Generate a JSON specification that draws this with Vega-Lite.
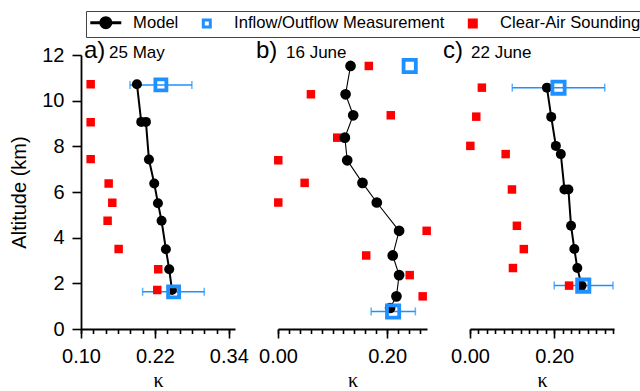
{
  "$schema": "https://vega.github.io/schema/vega-lite/v6.json",
  "padding": {"left": 9, "top": 10, "right": 0, "bottom": 0},
  "config": {
    "view": {"stroke": null},
    "font": "Liberation Sans",
    "axis": {
      "domainColor": "black", "domainWidth": 1.8, "tickColor": "black", "tickWidth": 1.6,
      "labelFont": "Liberation Sans", "labelFontSize": 20, "labelColor": "black", "labelPadding": 8,
      "titleFont": "Liberation Sans", "titleFontSize": 20, "titleColor": "black", "titleFontWeight": "normal",
      "grid": false
    },
    "axisX": {"titleFont": "Liberation Serif", "titleFontSize": 20, "titlePadding": 4},
    "legend": {
      "labelFont": "Liberation Sans", "labelFontSize": 16.6, "labelColor": "black", "labelLimit": 400
    }
  },
  "datasets": {
    "pts": [
      {"p": "a", "s": "Model", "n": 1, "k": 0.1908, "z": 10.72},
      {"p": "a", "s": "Model", "n": 2, "k": 0.1978, "z": 9.07},
      {"p": "a", "s": "Model", "n": 3, "k": 0.2054, "z": 9.07},
      {"p": "a", "s": "Model", "n": 4, "k": 0.2103, "z": 7.42},
      {"p": "a", "s": "Model", "n": 5, "k": 0.2189, "z": 6.37},
      {"p": "a", "s": "Model", "n": 6, "k": 0.2249, "z": 5.51},
      {"p": "a", "s": "Model", "n": 7, "k": 0.2308, "z": 4.74},
      {"p": "a", "s": "Model", "n": 8, "k": 0.2378, "z": 3.49},
      {"p": "a", "s": "Model", "n": 9, "k": 0.2432, "z": 2.62},
      {"p": "a", "s": "Model", "n": 10, "k": 0.2476, "z": 1.71},
      {"p": "a", "s": "Inflow/Outflow Measurement", "k": 0.2297, "z": 10.69, "lo": 0.1795, "hi": 0.280},
      {"p": "a", "s": "Inflow/Outflow Measurement", "k": 0.2503, "z": 1.63, "lo": 0.200, "hi": 0.300},
      {"p": "a", "s": "Clear-Air Sounding", "k": 0.1157, "z": 10.72},
      {"p": "a", "s": "Clear-Air Sounding", "k": 0.1157, "z": 9.05},
      {"p": "a", "s": "Clear-Air Sounding", "k": 0.1157, "z": 7.44},
      {"p": "a", "s": "Clear-Air Sounding", "k": 0.1449, "z": 6.37},
      {"p": "a", "s": "Clear-Air Sounding", "k": 0.1508, "z": 5.53},
      {"p": "a", "s": "Clear-Air Sounding", "k": 0.1432, "z": 4.74},
      {"p": "a", "s": "Clear-Air Sounding", "k": 0.1611, "z": 3.50},
      {"p": "a", "s": "Clear-Air Sounding", "k": 0.2254, "z": 2.62},
      {"p": "a", "s": "Clear-Air Sounding", "k": 0.2238, "z": 1.71},

      {"p": "b", "s": "Model", "n": 1, "k": 0.1329, "z": 11.52},
      {"p": "b", "s": "Model", "n": 2, "k": 0.1238, "z": 10.28},
      {"p": "b", "s": "Model", "n": 3, "k": 0.1378, "z": 9.36},
      {"p": "b", "s": "Model", "n": 4, "k": 0.1225, "z": 8.38},
      {"p": "b", "s": "Model", "n": 5, "k": 0.1268, "z": 7.39},
      {"p": "b", "s": "Model", "n": 6, "k": 0.1548, "z": 6.40},
      {"p": "b", "s": "Model", "n": 7, "k": 0.1810, "z": 5.54},
      {"p": "b", "s": "Model", "n": 8, "k": 0.2219, "z": 4.30},
      {"p": "b", "s": "Model", "n": 9, "k": 0.2102, "z": 3.22},
      {"p": "b", "s": "Model", "n": 10, "k": 0.2219, "z": 2.36},
      {"p": "b", "s": "Model", "n": 11, "k": 0.2170, "z": 1.43},
      {"p": "b", "s": "Model", "n": 12, "k": 0.2054, "z": 0.92},
      {"p": "b", "s": "Inflow/Outflow Measurement", "k": 0.2413, "z": 11.52},
      {"p": "b", "s": "Inflow/Outflow Measurement", "k": 0.2109, "z": 0.77, "lo": 0.1707, "hi": 0.2517},
      {"p": "b", "s": "Clear-Air Sounding", "k": 0.1664, "z": 11.52},
      {"p": "b", "s": "Clear-Air Sounding", "k": 0.0603, "z": 10.28},
      {"p": "b", "s": "Clear-Air Sounding", "k": 0.2066, "z": 9.36},
      {"p": "b", "s": "Clear-Air Sounding", "k": 0.1085, "z": 8.38},
      {"p": "b", "s": "Clear-Air Sounding", "k": 0.0005, "z": 7.39},
      {"p": "b", "s": "Clear-Air Sounding", "k": 0.0488, "z": 6.40},
      {"p": "b", "s": "Clear-Air Sounding", "k": 0.0005, "z": 5.54},
      {"p": "b", "s": "Clear-Air Sounding", "k": 0.2724, "z": 4.30},
      {"p": "b", "s": "Clear-Air Sounding", "k": 0.1616, "z": 3.22},
      {"p": "b", "s": "Clear-Air Sounding", "k": 0.2413, "z": 2.36},
      {"p": "b", "s": "Clear-Air Sounding", "k": 0.2651, "z": 1.43},

      {"p": "c", "s": "Model", "n": 1, "k": 0.1827, "z": 10.57},
      {"p": "c", "s": "Model", "n": 2, "k": 0.1929, "z": 9.29},
      {"p": "c", "s": "Model", "n": 3, "k": 0.2039, "z": 8.02},
      {"p": "c", "s": "Model", "n": 4, "k": 0.2157, "z": 7.66},
      {"p": "c", "s": "Model", "n": 5, "k": 0.2243, "z": 6.11},
      {"p": "c", "s": "Model", "n": 6, "k": 0.2337, "z": 6.11},
      {"p": "c", "s": "Model", "n": 7, "k": 0.2400, "z": 4.52},
      {"p": "c", "s": "Model", "n": 8, "k": 0.2478, "z": 3.50},
      {"p": "c", "s": "Model", "n": 9, "k": 0.2549, "z": 2.67},
      {"p": "c", "s": "Model", "n": 10, "k": 0.2651, "z": 1.90},
      {"p": "c", "s": "Inflow/Outflow Measurement", "k": 0.2102, "z": 10.57, "lo": 0.1004, "hi": 0.320},
      {"p": "c", "s": "Inflow/Outflow Measurement", "k": 0.2690, "z": 1.90, "lo": 0.200, "hi": 0.3396},
      {"p": "c", "s": "Clear-Air Sounding", "k": 0.0282, "z": 10.57},
      {"p": "c", "s": "Clear-Air Sounding", "k": 0.0149, "z": 9.30},
      {"p": "c", "s": "Clear-Air Sounding", "k": 0.0008, "z": 8.02},
      {"p": "c", "s": "Clear-Air Sounding", "k": 0.0847, "z": 7.66},
      {"p": "c", "s": "Clear-Air Sounding", "k": 0.0996, "z": 6.11},
      {"p": "c", "s": "Clear-Air Sounding", "k": 0.1114, "z": 4.52},
      {"p": "c", "s": "Clear-Air Sounding", "k": 0.1278, "z": 3.50},
      {"p": "c", "s": "Clear-Air Sounding", "k": 0.1020, "z": 2.67},
      {"p": "c", "s": "Clear-Air Sounding", "k": 0.2353, "z": 1.90}
    ]
  },
  "spacing": 43,
  "bounds": "flush",
  "resolve": {"scale": {"x": "independent", "y": "independent"}},
  "hconcat": [
    {
      "width": 154, "height": 274,
      "data": {"name": "pts"},
      "transform": [{"filter": "datum.p === 'a'"}],
      "resolve": {"axis": {"x": "independent"}},
      "layer": [
        {
          "transform": [{"filter": "isValid(datum.lo)"}],
          "mark": {"type": "rule", "color": "#1E90FF", "strokeWidth": 1.5},
          "encoding": {
            "x": {"field": "lo", "type": "quantitative", "scale": {"domain": [0.1, 0.35], "nice": false, "zero": false},
              "axis": {"title": "κ", "orient": "bottom", "values": [0.10, 0.22, 0.34], "format": ".2f", "tickSize": 9,
                "labelOverlap": false, "labelFlush": false}},
            "x2": {"field": "hi"},
            "y": {"field": "z", "type": "quantitative", "scale": {"domain": [0, 12], "nice": false},
              "axis": {"title": "Altitude (km)", "values": [0, 1, 2, 3, 4, 5, 6, 7, 8, 9, 10, 11, 12], "titlePadding": 12,
                "labelOverlap": false, "labelFlush": false,
                "labelExpr": "datum.value % 2 === 0 ? datum.label : ''",
                "tickSize": {"condition": {"test": "datum.value % 2 === 0", "value": 9}, "value": 4.5}}}
          }
        },
        {
          "transform": [{"filter": "isValid(datum.lo)"}],
          "mark": {"type": "tick", "orient": "vertical", "color": "#1E90FF", "size": 8, "thickness": 1.5},
          "encoding": {
            "x": {"field": "lo", "type": "quantitative",
              "axis": {"orient": "bottom", "title": null, "labels": false, "domain": false, "tickSize": 4.5,
                "values": [0.10, 0.12, 0.14, 0.16, 0.18, 0.20, 0.22, 0.24, 0.26, 0.28, 0.30, 0.32, 0.34]}},
            "y": {"field": "z", "type": "quantitative"}}
        },
        {
          "transform": [{"filter": "isValid(datum.lo)"}],
          "mark": {"type": "tick", "orient": "vertical", "color": "#1E90FF", "size": 8, "thickness": 1.5},
          "encoding": {"x": {"field": "hi", "type": "quantitative", "axis": null}, "y": {"field": "z", "type": "quantitative"}}
        },
        {
          "transform": [{"filter": "datum.s === 'Clear-Air Sounding'"}],
          "mark": {"type": "point", "filled": true, "opacity": 1, "size": 30, "strokeWidth": 3},
          "encoding": {
            "x": {"field": "k", "type": "quantitative", "axis": null},
            "y": {"field": "z", "type": "quantitative"},
            "fill": {"field": "s", "type": "nominal",
              "scale": {"domain": ["Model", "Inflow/Outflow Measurement", "Clear-Air Sounding"], "range": ["#000000", "#ffffff", "#FF0000"]},
              "legend": {
                "orient": "none", "legendX": 5, "legendY": -44, "direction": "horizontal",
                "title": "\u00a0", "titleOrient": "left", "titlePadding": 8.5, "titleFontSize": 17,
                "strokeColor": "#444444", "padding": 3,
                "symbolSize": 49, "symbolStrokeWidth": 3, "symbolOpacity": 1, "labelOffset": 19, "columnPadding": 18
              }},
            "stroke": {"field": "s", "type": "nominal",
              "scale": {"domain": ["Model", "Inflow/Outflow Measurement", "Clear-Air Sounding"], "range": ["#000000", "#1E90FF", "#FF0000"]},
              "legend": {
                "orient": "none", "legendX": 5, "legendY": -44, "direction": "horizontal",
                "title": "\u00a0", "titleOrient": "left", "titlePadding": 8.5, "titleFontSize": 17,
                "strokeColor": "#444444", "padding": 3,
                "symbolSize": 49, "symbolStrokeWidth": 3, "symbolOpacity": 1, "labelOffset": 19, "columnPadding": 18
              }},
            "shape": {"field": "s", "type": "nominal",
              "scale": {"domain": ["Model", "Inflow/Outflow Measurement", "Clear-Air Sounding"], "range": ["M-4.43,0H4.43M-1.43,0A1.43,1.43 0 1,1 1.43,0A1.43,1.43 0 1,1 -1.43,0Z", "square", "square"]},
              "legend": {
                "orient": "none", "legendX": 5, "legendY": -44, "direction": "horizontal",
                "title": "\u00a0", "titleOrient": "left", "titlePadding": 8.5, "titleFontSize": 17,
                "strokeColor": "#444444", "padding": 3,
                "symbolSize": 49, "symbolStrokeWidth": 3, "symbolOpacity": 1, "labelOffset": 19, "columnPadding": 18
              }}
          }
        },
        {
          "transform": [{"filter": "datum.s === 'Model'"}],
          "mark": {"type": "line", "color": "black", "strokeWidth": 2},
          "encoding": {"x": {"field": "k", "type": "quantitative", "axis": null}, "y": {"field": "z", "type": "quantitative"}, "order": {"field": "n"}}
        },
        {
          "transform": [{"filter": "datum.s === 'Model'"}],
          "mark": {"type": "point", "shape": "circle", "filled": true, "color": "black", "opacity": 1, "size": 100},
          "encoding": {"x": {"field": "k", "type": "quantitative", "axis": null}, "y": {"field": "z", "type": "quantitative"}}
        },
        {
          "transform": [{"filter": "datum.s === 'Inflow/Outflow Measurement'"}],
          "mark": {"type": "point", "shape": "square", "filled": false, "color": "#1E90FF", "opacity": 1, "size": 121, "strokeWidth": 3.8},
          "encoding": {"x": {"field": "k", "type": "quantitative", "axis": null}, "y": {"field": "z", "type": "quantitative"}}
        },
        {
          "data": {"values": [{"t": "a)"}]},
          "mark": {"type": "text", "align": "left", "baseline": "alphabetic", "dx": 3, "dy": 2.5, "fontSize": 24, "font": "Liberation Sans", "color": "black"},
          "encoding": {"x": {"datum": 0.1, "type": "quantitative", "axis": null}, "y": {"datum": 12, "type": "quantitative"}, "text": {"field": "t"}}
        },
        {
          "data": {"values": [{"t": "25 May"}]},
          "mark": {"type": "text", "align": "left", "baseline": "alphabetic", "dx": 28, "dy": 2.5, "fontSize": 17, "font": "Liberation Sans", "color": "black"},
          "encoding": {"x": {"datum": 0.1, "type": "quantitative", "axis": null}, "y": {"datum": 12, "type": "quantitative"}, "text": {"field": "t"}}
        }
      ]
    },
    {
      "width": 149, "height": 274,
      "data": {"name": "pts"},
      "transform": [{"filter": "datum.p === 'b'"}],
      "resolve": {"axis": {"x": "independent"}},
      "layer": [
        {
          "transform": [{"filter": "isValid(datum.lo)"}],
          "mark": {"type": "rule", "color": "#1E90FF", "strokeWidth": 1.5},
          "encoding": {
            "x": {"field": "lo", "type": "quantitative", "scale": {"domain": [0, 0.273], "nice": false, "zero": false},
              "axis": {"title": "κ", "orient": "bottom", "values": [0, 0.2], "format": ".2f", "tickSize": 9,
                "labelOverlap": false, "labelFlush": false}},
            "x2": {"field": "hi"},
            "y": {"field": "z", "type": "quantitative", "scale": {"domain": [0, 12], "nice": false}, "axis": null}
          }
        },
        {
          "transform": [{"filter": "isValid(datum.lo)"}],
          "mark": {"type": "tick", "orient": "vertical", "color": "#1E90FF", "size": 8, "thickness": 1.5},
          "encoding": {
            "x": {"field": "lo", "type": "quantitative",
              "axis": {"orient": "bottom", "title": null, "labels": false, "domain": false, "tickSize": 4.5,
                "values": [0, 0.02, 0.04, 0.06, 0.08, 0.10, 0.12, 0.14, 0.16, 0.18, 0.20, 0.22, 0.24, 0.26]}},
            "y": {"field": "z", "type": "quantitative"}}
        },
        {
          "transform": [{"filter": "isValid(datum.lo)"}],
          "mark": {"type": "tick", "orient": "vertical", "color": "#1E90FF", "size": 8, "thickness": 1.5},
          "encoding": {"x": {"field": "hi", "type": "quantitative", "axis": null}, "y": {"field": "z", "type": "quantitative"}}
        },
        {
          "transform": [{"filter": "datum.s === 'Clear-Air Sounding'"}],
          "mark": {"type": "point", "shape": "square", "filled": true, "color": "#FF0000", "opacity": 1, "size": 72},
          "encoding": {"x": {"field": "k", "type": "quantitative", "axis": null}, "y": {"field": "z", "type": "quantitative"}}
        },
        {
          "transform": [{"filter": "datum.s === 'Model'"}],
          "mark": {"type": "line", "color": "black", "strokeWidth": 1.1},
          "encoding": {"x": {"field": "k", "type": "quantitative", "axis": null}, "y": {"field": "z", "type": "quantitative"}, "order": {"field": "n"}}
        },
        {
          "transform": [{"filter": "datum.s === 'Model'"}],
          "mark": {"type": "point", "shape": "circle", "filled": true, "color": "black", "opacity": 1, "size": 115},
          "encoding": {"x": {"field": "k", "type": "quantitative", "axis": null}, "y": {"field": "z", "type": "quantitative"}}
        },
        {
          "transform": [{"filter": "datum.s === 'Inflow/Outflow Measurement'"}],
          "mark": {"type": "point", "shape": "square", "filled": false, "color": "#1E90FF", "opacity": 1, "size": 150, "strokeWidth": 3.8},
          "encoding": {"x": {"field": "k", "type": "quantitative", "axis": null}, "y": {"field": "z", "type": "quantitative"}}
        },
        {
          "data": {"values": [{"t": "b)"}]},
          "mark": {"type": "text", "align": "left", "baseline": "alphabetic", "dx": -22, "dy": 2.5, "fontSize": 24, "font": "Liberation Sans", "color": "black"},
          "encoding": {"x": {"datum": 0, "type": "quantitative", "axis": null}, "y": {"datum": 12, "type": "quantitative"}, "text": {"field": "t"}}
        },
        {
          "data": {"values": [{"t": "16 June"}]},
          "mark": {"type": "text", "align": "left", "baseline": "alphabetic", "dx": 8, "dy": 2.5, "fontSize": 17, "font": "Liberation Sans", "color": "black"},
          "encoding": {"x": {"datum": 0, "type": "quantitative", "axis": null}, "y": {"datum": 12, "type": "quantitative"}, "text": {"field": "t"}}
        }
      ]
    },
    {
      "width": 144, "height": 274,
      "data": {"name": "pts"},
      "transform": [{"filter": "datum.p === 'c'"}],
      "resolve": {"axis": {"x": "independent"}},
      "layer": [
        {
          "transform": [{"filter": "isValid(datum.lo)"}],
          "mark": {"type": "rule", "color": "#1E90FF", "strokeWidth": 1.5},
          "encoding": {
            "x": {"field": "lo", "type": "quantitative", "scale": {"domain": [0, 0.342], "nice": false, "zero": false},
              "axis": {"title": "κ", "orient": "bottom", "values": [0, 0.2], "format": ".2f", "tickSize": 9,
                "labelOverlap": false, "labelFlush": false}},
            "x2": {"field": "hi"},
            "y": {"field": "z", "type": "quantitative", "scale": {"domain": [0, 12], "nice": false}, "axis": null}
          }
        },
        {
          "transform": [{"filter": "isValid(datum.lo)"}],
          "mark": {"type": "tick", "orient": "vertical", "color": "#1E90FF", "size": 8, "thickness": 1.5},
          "encoding": {
            "x": {"field": "lo", "type": "quantitative",
              "axis": {"orient": "bottom", "title": null, "labels": false, "domain": false, "tickSize": 4.5,
                "values": [0, 0.02, 0.04, 0.06, 0.08, 0.10, 0.12, 0.14, 0.16, 0.18, 0.20, 0.22, 0.24, 0.26, 0.28, 0.30, 0.32, 0.34]}},
            "y": {"field": "z", "type": "quantitative"}}
        },
        {
          "transform": [{"filter": "isValid(datum.lo)"}],
          "mark": {"type": "tick", "orient": "vertical", "color": "#1E90FF", "size": 8, "thickness": 1.5},
          "encoding": {"x": {"field": "hi", "type": "quantitative", "axis": null}, "y": {"field": "z", "type": "quantitative"}}
        },
        {
          "transform": [{"filter": "datum.s === 'Clear-Air Sounding'"}],
          "mark": {"type": "point", "shape": "square", "filled": true, "color": "#FF0000", "opacity": 1, "size": 72},
          "encoding": {"x": {"field": "k", "type": "quantitative", "axis": null}, "y": {"field": "z", "type": "quantitative"}}
        },
        {
          "transform": [{"filter": "datum.s === 'Model'"}],
          "mark": {"type": "line", "color": "black", "strokeWidth": 2},
          "encoding": {"x": {"field": "k", "type": "quantitative", "axis": null}, "y": {"field": "z", "type": "quantitative"}, "order": {"field": "n"}}
        },
        {
          "transform": [{"filter": "datum.s === 'Model'"}],
          "mark": {"type": "point", "shape": "circle", "filled": true, "color": "black", "opacity": 1, "size": 100},
          "encoding": {"x": {"field": "k", "type": "quantitative", "axis": null}, "y": {"field": "z", "type": "quantitative"}}
        },
        {
          "transform": [{"filter": "datum.s === 'Inflow/Outflow Measurement'"}],
          "mark": {"type": "point", "shape": "square", "filled": false, "color": "#1E90FF", "opacity": 1, "size": 150, "strokeWidth": 3.8},
          "encoding": {"x": {"field": "k", "type": "quantitative", "axis": null}, "y": {"field": "z", "type": "quantitative"}}
        },
        {
          "data": {"values": [{"t": "c)"}]},
          "mark": {"type": "text", "align": "left", "baseline": "alphabetic", "dx": -27, "dy": 2.5, "fontSize": 24, "font": "Liberation Sans", "color": "black"},
          "encoding": {"x": {"datum": 0, "type": "quantitative", "axis": null}, "y": {"datum": 12, "type": "quantitative"}, "text": {"field": "t"}}
        },
        {
          "data": {"values": [{"t": "22 June"}]},
          "mark": {"type": "text", "align": "left", "baseline": "alphabetic", "dx": 1, "dy": 2.5, "fontSize": 17, "font": "Liberation Sans", "color": "black"},
          "encoding": {"x": {"datum": 0, "type": "quantitative", "axis": null}, "y": {"datum": 12, "type": "quantitative"}, "text": {"field": "t"}}
        }
      ]
    }
  ]
}
